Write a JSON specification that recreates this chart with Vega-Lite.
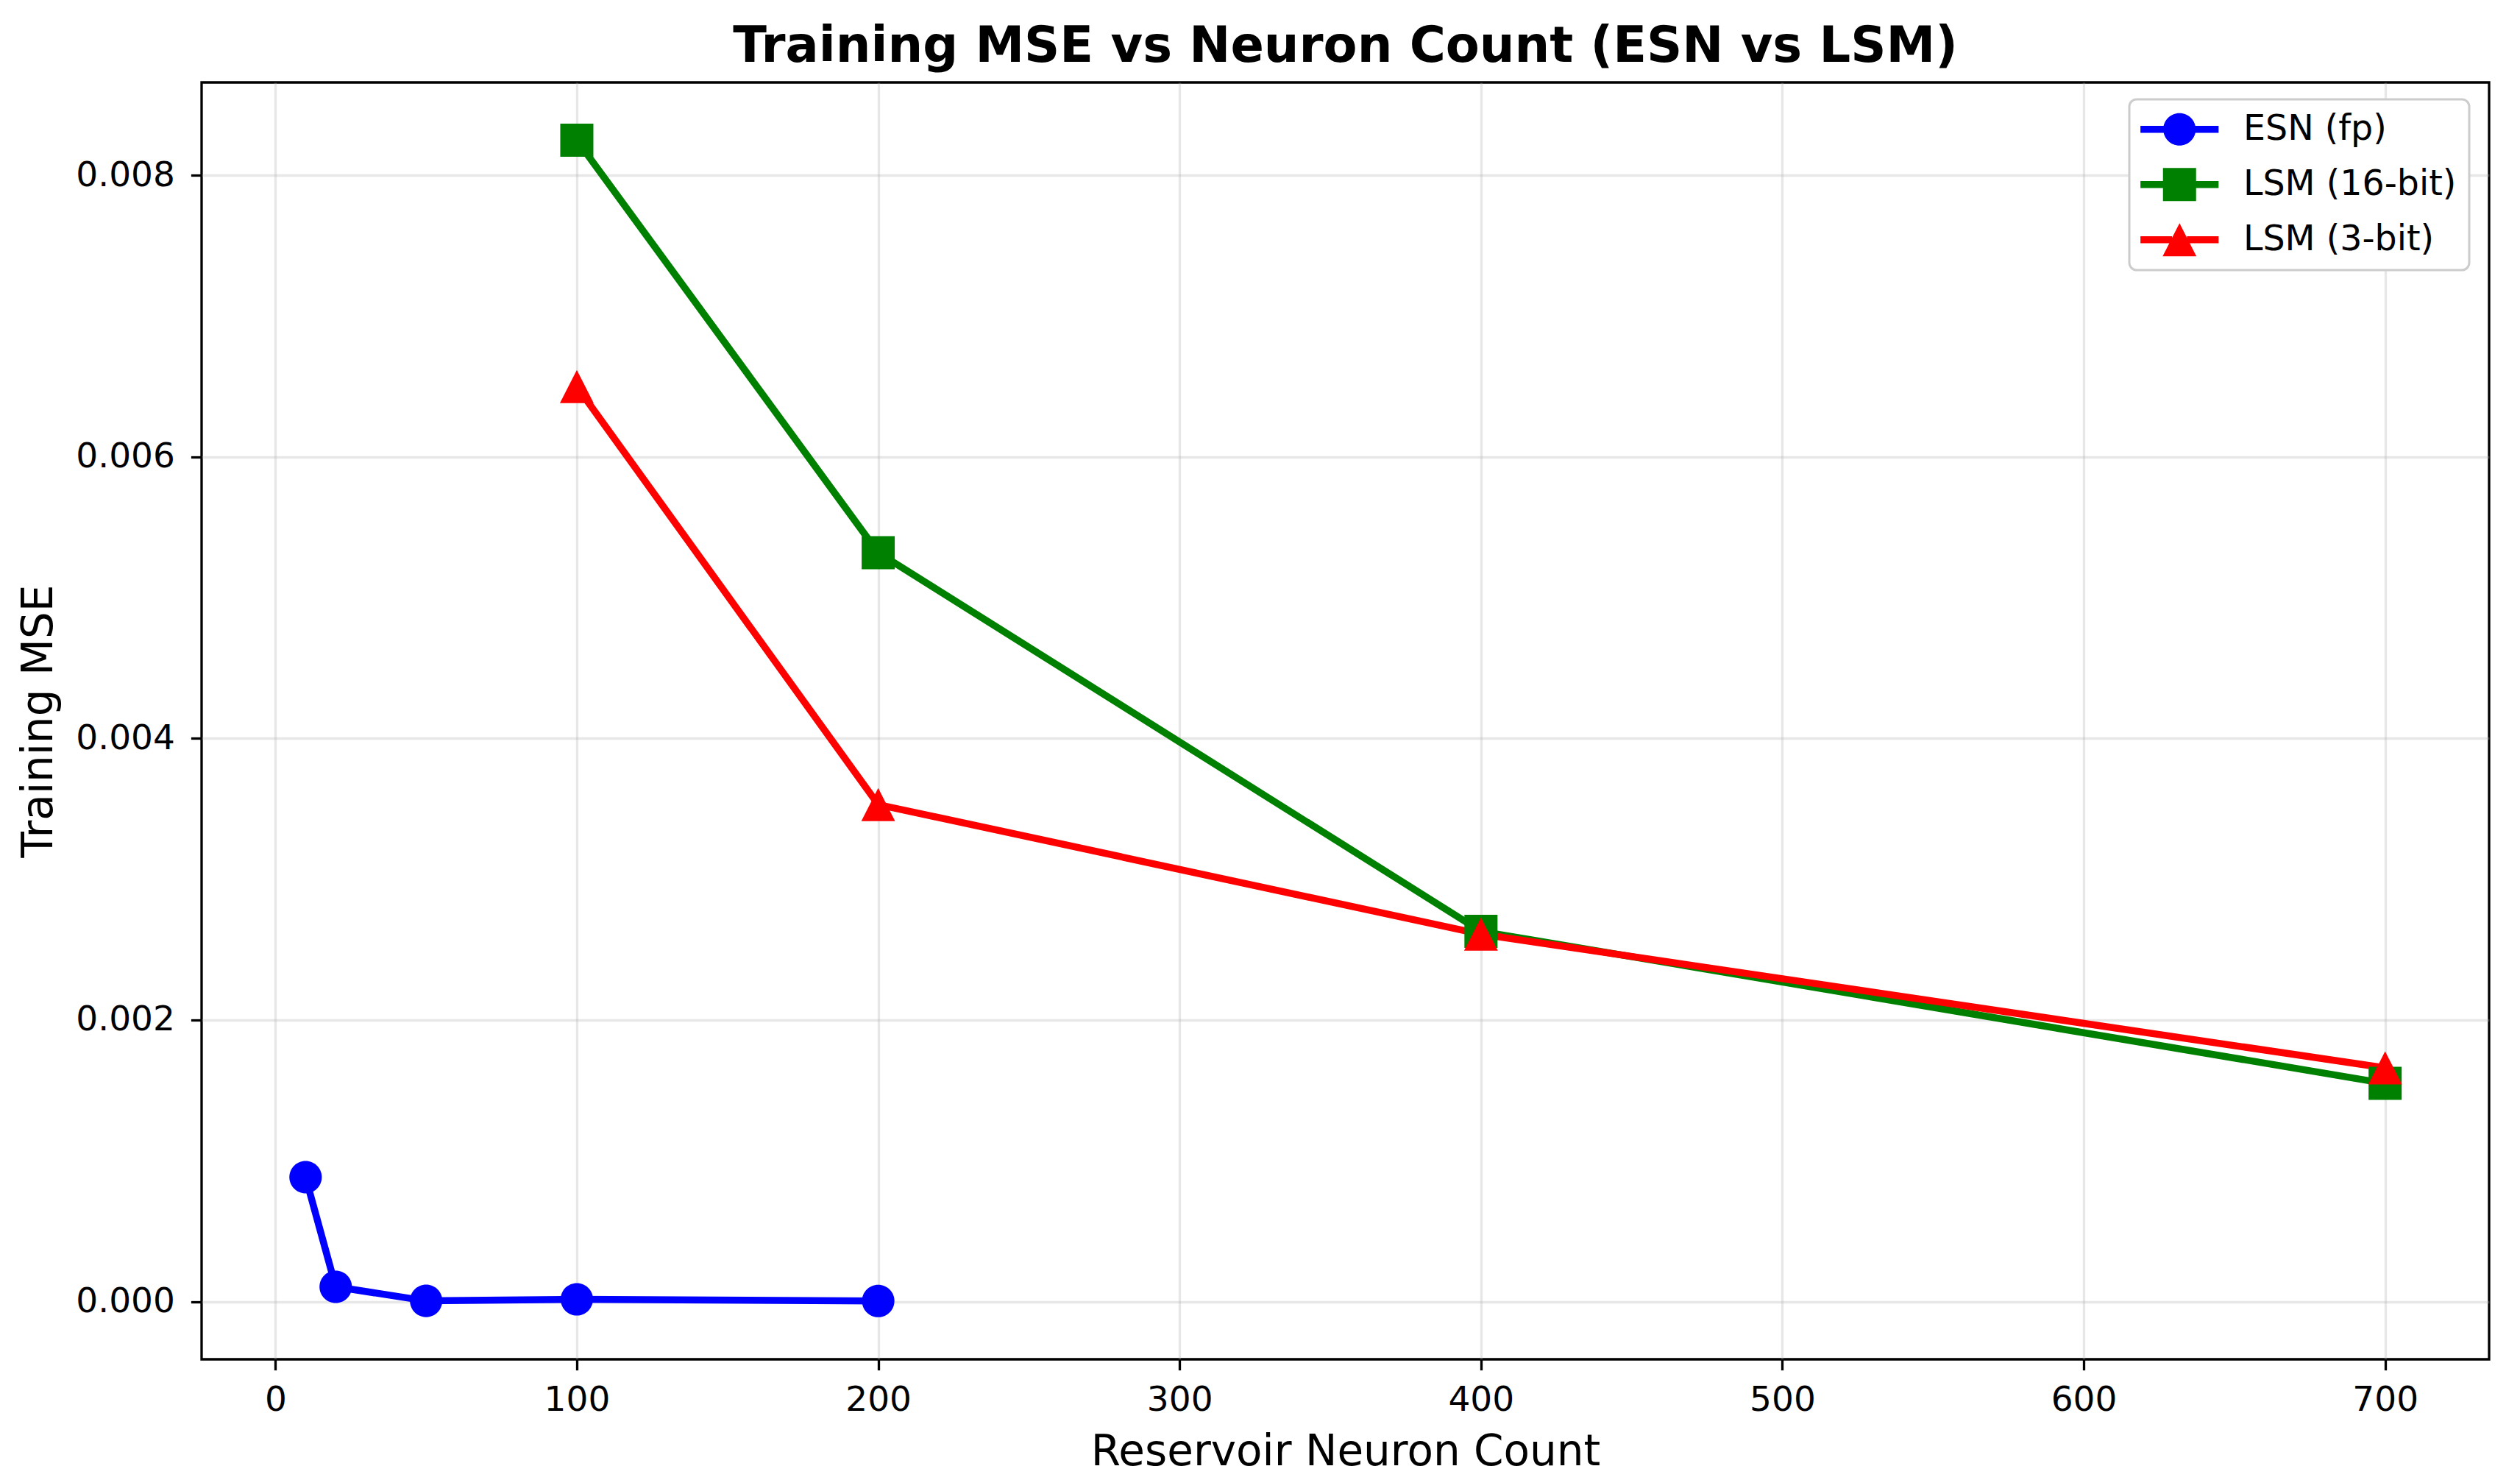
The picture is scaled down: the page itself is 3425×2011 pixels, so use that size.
{
  "$schema": "https://vega.github.io/schema/vega-lite/v6.json",
  "width": 3109,
  "height": 1735,
  "autosize": {"type": "none"},
  "padding": {"left": 274, "top": 112, "right": 42, "bottom": 164},
  "background": "white",
  "title": {
    "text": "Training MSE vs Neuron Count (ESN vs LSM)",
    "font": "DejaVu Sans",
    "fontSize": 67,
    "fontWeight": "bold",
    "color": "black",
    "anchor": "middle",
    "baseline": "alphabetic",
    "offset": -39
  },
  "data": {
    "values": [
      {"series": "ESN (fp)", "neurons": 10, "mse": 0.000884},
      {"series": "ESN (fp)", "neurons": 20, "mse": 0.000105},
      {"series": "ESN (fp)", "neurons": 50, "mse": 0.000005},
      {"series": "ESN (fp)", "neurons": 100, "mse": 0.000016},
      {"series": "ESN (fp)", "neurons": 200, "mse": 0.000004},
      {"series": "LSM (16-bit)", "neurons": 100, "mse": 0.00825},
      {"series": "LSM (16-bit)", "neurons": 200, "mse": 0.00532},
      {"series": "LSM (16-bit)", "neurons": 400, "mse": 0.00263},
      {"series": "LSM (16-bit)", "neurons": 700, "mse": 0.00155},
      {"series": "LSM (3-bit)", "neurons": 100, "mse": 0.0065},
      {"series": "LSM (3-bit)", "neurons": 200, "mse": 0.00353},
      {"series": "LSM (3-bit)", "neurons": 400, "mse": 0.00261},
      {"series": "LSM (3-bit)", "neurons": 700, "mse": 0.00166}
    ]
  },
  "encoding": {
    "x": {
      "field": "neurons",
      "type": "quantitative",
      "scale": {"domain": [-24.5, 734.5], "nice": false, "zero": false},
      "axis": {
        "title": "Reservoir Neuron Count",
        "values": [0, 100, 200, 300, 400, 500, 600, 700],
        "labelBaseline": "alphabetic",
        "labelPadding": 55,
        "titleY": 143,
        "titleBaseline": "alphabetic"
      }
    },
    "y": {
      "field": "mse",
      "type": "quantitative",
      "scale": {"domain": [-0.00041, 0.00866], "nice": false, "zero": false},
      "axis": {
        "title": "Training MSE",
        "values": [0, 0.002, 0.004, 0.006, 0.008],
        "format": ".3f",
        "labelPadding": 22,
        "titleX": -204,
        "titleBaseline": "alphabetic"
      }
    }
  },
  "layer": [
    {
      "mark": {"type": "line", "strokeWidth": 9.5},
      "encoding": {
        "color": {
          "field": "series",
          "type": "nominal",
          "scale": {"domain": ["ESN (fp)", "LSM (16-bit)", "LSM (3-bit)"], "range": ["#0000ff", "#008000", "#ff0000"]},
          "legend": null
        }
      }
    },
    {
      "mark": {"type": "point", "filled": true, "opacity": 1, "size": 2025},
      "encoding": {
        "color": {
          "field": "series",
          "type": "nominal",
          "scale": {"domain": ["ESN (fp)", "LSM (16-bit)", "LSM (3-bit)"], "range": ["#0000ff", "#008000", "#ff0000"]},
          "legend": null
        },
        "shape": {
          "field": "series",
          "type": "nominal",
          "scale": {
            "domain": ["ESN (fp)", "LSM (16-bit)", "LSM (3-bit)"],
            "range": [
              "M-0.98,0 A0.98,0.98 0 1,1 0.98,0 A0.98,0.98 0 1,1 -0.98,0 Z",
              "M-1,-1 L1,-1 L1,1 L-1,1 Z",
              "M0,-1 L1.02,1 L-1.02,1 Z"
            ]
          },
          "legend": null
        }
      }
    },
    {
      "mark": {"type": "point", "filled": true, "opacity": 0, "size": 2025},
      "encoding": {
        "color": {
          "field": "series",
          "type": "nominal",
          "scale": {"domain": ["ESN (fp)", "LSM (16-bit)", "LSM (3-bit)"], "range": ["#0000ff", "#008000", "#ff0000"]},
          "legend": {
            "title": null,
            "orient": "none",
            "legendX": 2620,
            "legendY": 23,
            "symbolSize": 2025,
            "symbolOffset": 27.5,
            "labelOffset": 63,
            "labelLimit": 0,
            "rowPadding": 26,
            "symbolOpacity": 1,
            "symbolStrokeWidth": 0,
            "encode": {"symbols": {"update": {"opacity": {"value": 1}}}}
          }
        },
        "shape": {
          "field": "series",
          "type": "nominal",
          "scale": {
            "domain": ["ESN (fp)", "LSM (16-bit)", "LSM (3-bit)"],
            "range": [
              "M-2.36,-0.21 L-0.95,-0.21 L-0.95,0.21 L-2.36,0.21 Z M0.95,-0.21 L2.36,-0.21 L2.36,0.21 L0.95,0.21 Z M-0.98,0 A0.98,0.98 0 1,1 0.98,0 A0.98,0.98 0 1,1 -0.98,0 Z",
              "M-2.36,-0.21 L-1,-0.21 L-1,0.21 L-2.36,0.21 Z M1,-0.21 L2.36,-0.21 L2.36,0.21 L1,0.21 Z M-1,-1 L1,-1 L1,1 L-1,1 Z",
              "M-2.36,-0.21 L-0.45,-0.21 L-0.45,0.21 L-2.36,0.21 Z M0.45,-0.21 L2.36,-0.21 L2.36,0.21 L0.45,0.21 Z M0,-1 L1.02,1 L-1.02,1 Z"
            ]
          },
          "legend": {
            "title": null,
            "orient": "none",
            "legendX": 2620,
            "legendY": 23,
            "symbolSize": 2025,
            "symbolOffset": 27.5,
            "labelOffset": 63,
            "labelLimit": 0,
            "rowPadding": 26,
            "symbolOpacity": 1,
            "symbolStrokeWidth": 0,
            "encode": {"symbols": {"update": {"opacity": {"value": 1}}}}
          }
        }
      }
    }
  ],
  "resolve": {"scale": {"color": "independent", "shape": "independent"}},
  "config": {
    "font": "DejaVu Sans",
    "view": {"stroke": "black", "strokeWidth": 3.3},
    "axis": {
      "domain": false,
      "grid": true,
      "gridColor": "#b0b0b0",
      "gridOpacity": 0.3,
      "gridWidth": 3.3,
      "ticks": true,
      "tickColor": "black",
      "tickWidth": 3.3,
      "tickSize": 14.6,
      "labelFont": "DejaVu Sans",
      "labelFontSize": 47,
      "labelColor": "black",
      "titleFont": "DejaVu Sans",
      "titleFontSize": 58,
      "titleFontWeight": "normal",
      "titleColor": "black"
    },
    "legend": {
      "labelFont": "DejaVu Sans",
      "labelFontSize": 47.5,
      "labelColor": "black",
      "padding": 17,
      "strokeColor": "#cccccc",
      "strokeWidth": 3,
      "cornerRadius": 10,
      "fillColor": "#ffffff"
    }
  }
}
